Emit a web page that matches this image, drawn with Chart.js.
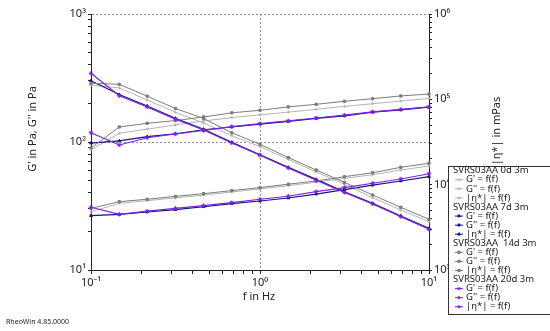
<!DOCTYPE html>
<html>
<head>
<meta charset="utf-8">
<script src="https://cdn.jsdelivr.net/npm/chart.js@4/dist/chart.umd.min.js"></script>
<style>
  html, body { margin: 0; padding: 0; background: #fff; }
  #wrap { width: 550px; height: 331px; }
</style>
</head>
<body>
<div id="wrap"><canvas id="myChart" width="550" height="331"></canvas></div>
<script>
// frequency points (Hz)
const freqHz = [0.1, 0.147, 0.215, 0.316, 0.464, 0.681, 1, 1.47, 2.15, 3.16, 4.64, 6.81, 10];

// G' in Pa
const gPrime0d = [86.6, 117, 126, 136, 146, 155, 163, 171, 180, 190, 199, 209, 219];
const gPrime7d = [98, 102, 110, 116, 124.6, 131, 138, 145, 153, 160, 171, 178, 187];
const gPrime14d = [89.8, 131, 140, 147, 157, 169, 177, 188, 197, 208, 218, 229, 237];
const gPrime20d = [118, 94.8, 108, 115.5, 123, 132, 139, 146, 154, 162, 172, 180, 188];

// G'' in Pa
const gDouble0d = [28.5, 33.2, 34.8, 36.6, 38.5, 40.7, 43, 45.6, 48.5, 52, 55.5, 60.4, 65];
const gDouble7d = [26.6, 27.2, 28.4, 29.6, 31.2, 33, 34.6, 36.5, 39.2, 42.4, 46, 49.6, 53.6];
const gDouble14d = [30.3, 34.2, 35.7, 37.6, 39.5, 41.7, 44, 46.8, 49.6, 53.6, 57.5, 63.4, 68.2];
const gDouble20d = [30.9, 27.2, 28.8, 30.3, 31.8, 33.6, 35.7, 37.7, 40.9, 44, 47.6, 51.4, 56.5];

// |eta*| in mPas
const eta0d = [147000, 136000, 98200, 70500, 52800, 37500, 27900, 19800, 14100, 10100, 7030, 5050, 3680];
const eta7d = [165000, 114000, 83600, 60000, 44600, 31400, 22400, 15960, 11550, 8270, 6050, 4300, 3080];
const eta14d = [154000, 150000, 109000, 78100, 59600, 40600, 29700, 20800, 14850, 10650, 7570, 5430, 3930];
const eta20d = [202000, 110000, 81400, 58600, 43700, 30800, 22100, 15700, 11300, 8130, 5940, 4220, 3000];

const sampleNames = ["SVRS03AA 0d 3m", "SVRS03AA 7d 3m", "SVRS03AA  14d 3m", "SVRS03AA 20d 3m"];
const quantityNames = ["G' = f(f)", "G'' = f(f)", "|\u03b7*| = f(f)"];

const sampleColors = ["#b4b4b4", "#14147a", "#7c7c7c", "#7b22e0"];
const sampleMarkers = ["cross", "triangle", "rect", "star"];

const FONT = "'Noto Sans', 'DejaVu Sans', sans-serif";

function init() {
    const canvas = document.getElementById("myChart");
    const gPrimeAll = [gPrime0d, gPrime7d, gPrime14d, gPrime20d];
    const gDoubleAll = [gDouble0d, gDouble7d, gDouble14d, gDouble20d];
    const etaAll = [eta0d, eta7d, eta14d, eta20d];

    const supMap = { "-": "\u207b", "0": "\u2070", "1": "\u00b9", "2": "\u00b2", "3": "\u00b3", "4": "\u2074", "5": "\u2075", "6": "\u2076" };
    const isMajor = (v) => {
        const l = Math.log10(v);
        return Math.abs(l - Math.round(l)) < 1e-6;
    };
    const powLabel = (v) => {
        if (!isMajor(v)) return "";
        const e = String(Math.round(Math.log10(v)));
        return "10" + e.split("").map(c => supMap[c]).join("");
    };
    function logTicks(scale) {
        const ticks = [];
        const lo = Math.round(Math.log10(scale.min));
        const hi = Math.round(Math.log10(scale.max));
        for (let e = lo; e < hi; e++) {
            for (let m = 1; m < 10; m++) ticks.push({ value: m * Math.pow(10, e) });
        }
        ticks.push({ value: Math.pow(10, hi) });
        scale.ticks = ticks;
    }

    // one dataset per sample and quantity
    const datasets = [];
    sampleNames.forEach((name, s) => {
        const series = [gPrimeAll[s], gDoubleAll[s], etaAll[s]];
        series.forEach((vals, q) => {
            datasets.push({
                label: name + " " + quantityNames[q],
                data: freqHz.map((f, i) => ({ x: f, y: vals[i] })),
                yAxisID: q === 2 ? "y2" : "y",
                borderColor: sampleColors[s],
                backgroundColor: sampleColors[s],
                borderWidth: s === 1 || s === 3 ? 1.2 : 1,
                pointStyle: sampleMarkers[s],
                pointRadius: s === 3 ? 2.2 : 1.6,
                pointBorderWidth: 1,
                pointBorderColor: sampleColors[s],
                pointBackgroundColor: sampleColors[s],
                tension: 0,
                clip: 6,
                order: 4 - s
            });
        });
    });

    const extraText = {
        id: "extraText",
        afterDraw(chart) {
            const ctx = chart.ctx;
            ctx.save();
            ctx.fillStyle = "#222";
            ctx.textBaseline = "middle";

            // axis titles
            ctx.font = "11px " + FONT;
            ctx.textAlign = "center";
            ctx.fillText("f in Hz", 259, 297);

            ctx.save();
            ctx.translate(33, 129);
            ctx.rotate(-Math.PI / 2);
            ctx.fillText("G' in Pa, G'' in Pa", 0, 0);
            ctx.restore();

            ctx.save();
            ctx.translate(497, 131);
            ctx.rotate(-Math.PI / 2);
            ctx.fillText("|\u03b7*| in mPas", 0, 0);
            ctx.restore();

            // footer
            ctx.font = "7px " + FONT;
            ctx.textAlign = "left";
            ctx.fillText("RheoWin 4.85.0000", 6, 322);

            // legend box
            ctx.fillStyle = "#fff";
            ctx.fillRect(448.5, 166.5, 102, 148);
            ctx.strokeStyle = "#333";
            ctx.lineWidth = 1;
            ctx.strokeRect(448.5, 166.5, 102, 148);
            ctx.font = "9.5px " + FONT;
            let row = 0;
            const rowY = (r) => 170.7 + r * 9.07;
            sampleNames.forEach((name, s) => {
                ctx.fillStyle = "#222";
                ctx.fillText(name, 453, rowY(row));
                row++;
                quantityNames.forEach((qn, q) => {
                    const ds = chart.data.datasets[s * 3 + q];
                    const y = rowY(row);
                    ctx.strokeStyle = ds.borderColor;
                    ctx.lineWidth = 1;
                    ctx.beginPath();
                    ctx.moveTo(455, y);
                    ctx.lineTo(463, y);
                    ctx.stroke();
                    ctx.fillStyle = ds.borderColor;
                    Chart.helpers.drawPoint(ctx, {
                        pointStyle: ds.pointStyle,
                        radius: 1.6,
                        rotation: 0,
                        borderWidth: 1
                    }, 459, y);
                    ctx.fillStyle = "#222";
                    ctx.fillText(qn, 466, y);
                    row++;
                });
            });
            ctx.restore();
        }
    };

    const gridColor = (c) => (c.tick && isMajor(c.tick.value) ? "#8c8c8c" : "rgba(0,0,0,0)");

    new Chart(canvas, {
        type: "line",
        data: { datasets: datasets },
        options: {
            responsive: false,
            animation: false,
            devicePixelRatio: 1,
            layout: { padding: { top: 14, left: 0, right: 0, bottom: 0 } },
            plugins: {
                legend: { display: false },
                tooltip: { enabled: false },
                title: { display: false }
            },
            scales: {
                x: {
                    type: "logarithmic",
                    min: 0.1,
                    max: 10,
                    afterBuildTicks: logTicks,
                    afterFit: (scale) => { scale.height = 61; },
                    ticks: {
                        autoSkip: false,
                        maxRotation: 0,
                        padding: 2,
                        color: "#222",
                        font: { family: FONT, size: 11 },
                        callback: (v) => powLabel(v)
                    },
                    grid: {
                        color: gridColor,
                        tickColor: "#222",
                        tickLength: 4,
                        lineWidth: 1
                    },
                    border: { display: true, color: "#222", width: 1, dash: [2, 2] }
                },
                y: {
                    type: "logarithmic",
                    position: "left",
                    min: 10,
                    max: 1000,
                    afterBuildTicks: logTicks,
                    afterFit: (scale) => { scale.width = 91; },
                    ticks: {
                        autoSkip: false,
                        padding: 2,
                        color: "#222",
                        font: { family: FONT, size: 11 },
                        callback: (v) => powLabel(v)
                    },
                    grid: {
                        color: gridColor,
                        tickColor: "#222",
                        tickLength: 3,
                        lineWidth: 1
                    },
                    border: { display: true, color: "#222", width: 1, dash: [2, 2] }
                },
                y2: {
                    type: "logarithmic",
                    position: "right",
                    min: 1000,
                    max: 1000000,
                    afterBuildTicks: logTicks,
                    afterFit: (scale) => { scale.width = 121; },
                    ticks: {
                        autoSkip: false,
                        padding: 2,
                        color: "#222",
                        font: { family: FONT, size: 11 },
                        callback: (v) => powLabel(v)
                    },
                    grid: {
                        drawOnChartArea: false,
                        tickColor: "#222",
                        tickLength: 3
                    },
                    border: { display: true, color: "#222", width: 1 }
                }
            }
        },
        plugins: [extraText]
    });
}

document.addEventListener("DOMContentLoaded", init);
</script>
</body>
</html>
